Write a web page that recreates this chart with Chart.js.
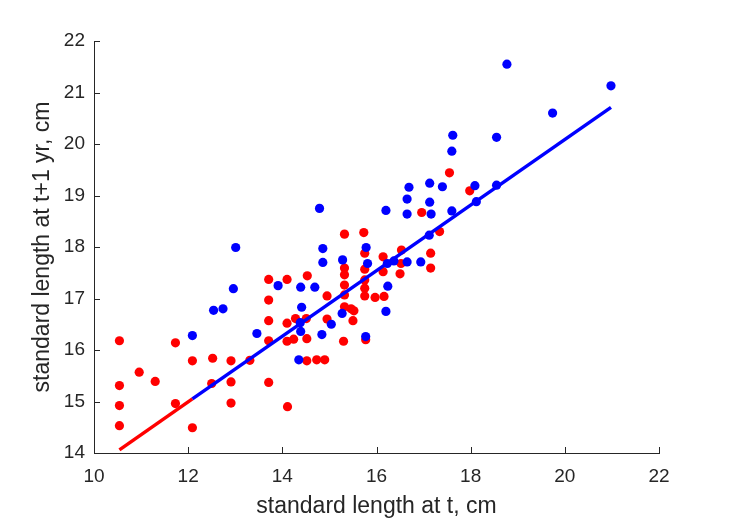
<!DOCTYPE html>
<html>
<head>
<meta charset="utf-8">
<script src="https://cdn.jsdelivr.net/npm/chart.js@4/dist/chart.umd.min.js"></script>
<style>
  body { margin: 0; background: #ffffff; }
  #wrap { width: 729px; height: 521px; }
</style>
</head>
<body>
<div id="wrap"><canvas id="myChart" width="729" height="521"></canvas></div>
<script>
// DONNEES : LONGUEUR A t (x) ET A t+1 AN (y)

var redX = [10.54, 10.54, 10.54, 10.54, 10.96, 11.30, 11.73, 11.73, 12.09, 12.09,
            12.52, 12.50, 12.91, 12.91, 12.91, 13.31, 13.71, 13.71, 13.71, 13.71,
            13.71, 14.10, 14.10, 14.10, 14.24, 14.11, 14.28, 14.51, 14.52, 14.53,
            14.52, 14.73, 14.90, 14.95, 14.95, 15.32, 15.32, 15.32, 15.32, 15.32,
            15.32, 15.30, 15.46, 15.52, 15.50, 15.73, 15.75, 15.75, 15.75, 15.75,
            15.75, 15.77, 15.97, 16.16, 16.14, 16.14, 16.52, 16.50, 16.53, 16.96,
            17.15, 17.15, 17.34, 17.55, 17.98];
var redY = [16.18, 15.31, 14.92, 14.53, 15.57, 15.39, 16.14, 14.96, 15.79, 14.49,
            15.84, 15.35, 15.79, 15.38, 14.97, 15.80, 17.37, 16.97, 16.57, 16.18,
            15.37, 17.37, 16.52, 16.17, 16.21, 14.90, 16.61, 16.61, 16.22, 17.44,
            15.79, 15.81, 15.81, 17.05, 16.60, 18.25, 17.59, 17.46, 17.26, 17.07,
            16.84, 16.17, 16.80, 16.76, 16.57, 18.28, 17.88, 17.57, 17.36, 17.20,
            17.05, 16.20, 17.02, 17.04, 17.81, 17.52, 17.68, 17.48, 17.94, 18.67,
            17.88, 17.59, 18.30, 19.44, 19.09];

var blueX = [12.09, 12.54, 12.74, 13.01, 12.96, 13.46, 13.91, 14.39, 14.69, 14.41,
             14.38, 14.39, 14.35, 14.79, 14.86, 14.86, 14.84, 15.04, 15.28, 15.27,
             15.78, 15.81, 15.77, 16.20, 16.24, 16.20, 16.23, 16.37, 16.65, 16.94,
             16.65, 16.69, 16.65, 17.13, 17.13, 17.16, 17.12, 17.40, 17.60, 17.62,
             17.60, 18.09, 18.12, 18.55, 18.55, 18.77, 19.74, 20.98];
var blueY = [16.28, 16.77, 16.80, 17.99, 17.19, 16.32, 17.25, 17.22, 17.22, 16.83,
             16.53, 16.36, 15.81, 18.75, 17.97, 17.70, 16.30, 16.50, 17.75, 16.71,
             17.99, 17.68, 16.26, 18.71, 17.24, 16.75, 17.68, 17.73, 17.71, 17.71,
             18.93, 19.16, 18.64, 19.24, 18.87, 18.64, 18.23, 19.17, 18.70, 20.17,
             19.86, 19.19, 18.88, 19.20, 20.13, 21.55, 20.60, 21.13];

// DROITE DE REGRESSION (EXTREMITES)
var redLineX = [10.54, 12.09];
var redLineY = [14.06, 15.05];
var blueLineX = [12.09, 20.98];
var blueLineY = [15.05, 20.71];

var xTicks = [10, 12, 14, 16, 18, 20, 22];
var yTicks = [14, 15, 16, 17, 18, 19, 20, 21, 22];

function toPoints(xs, ys) {
    var pts = [];
    for (var i = 0; i < xs.length; i++) {
        pts.push({ x: xs[i], y: ys[i] });
    }
    return pts;
}

var axisColor = "#262626";
var fontFam = "'Liberation Sans', Arial, Helvetica, sans-serif";

// PETITS TRAITS DE GRADUATION VERS L'INTERIEUR (COMME MATLAB)
var innerTicks = {
    id: "innerTicks",
    afterDraw: function(chart) {
        var ctx = chart.ctx;
        var a = chart.chartArea;
        var sx = chart.scales.x;
        var sy = chart.scales.y;
        ctx.save();
        ctx.strokeStyle = axisColor;
        ctx.lineWidth = 1;
        ctx.beginPath();
        for (var i = 0; i < xTicks.length; i++) {
            var px = Math.round(sx.getPixelForValue(xTicks[i])) + 0.5;
            ctx.moveTo(px, a.bottom);
            ctx.lineTo(px, a.bottom - 6);
        }
        for (var j = 0; j < yTicks.length; j++) {
            var py = Math.round(sy.getPixelForValue(yTicks[j])) + 0.5;
            ctx.moveTo(a.left, py);
            ctx.lineTo(a.left + 6, py);
        }
        ctx.stroke();
        ctx.restore();
    }
};

new Chart(document.getElementById("myChart"), {
    type: "scatter",
    data: {
        datasets: [{
            label: "ligne bleue",
            type: "line",
            data: toPoints(blueLineX, blueLineY),
            borderColor: "#0000ff",
            borderWidth: 3.5,
            pointRadius: 0,
            showLine: true,
            fill: false,
            order: 0
        }, {
            label: "ligne rouge",
            type: "line",
            data: toPoints(redLineX, redLineY),
            borderColor: "#ff0000",
            borderWidth: 3.5,
            pointRadius: 0,
            showLine: true,
            fill: false,
            order: 0
        }, {
            label: "bleu",
            data: toPoints(blueX, blueY),
            backgroundColor: "#0000ff",
            borderWidth: 0,
            pointRadius: 4.6,
            order: 1
        }, {
            label: "rouge",
            data: toPoints(redX, redY),
            backgroundColor: "#ff0000",
            borderWidth: 0,
            pointRadius: 4.6,
            order: 2
        }]
    },
    options: {
        responsive: false,
        animation: false,
        layout: { padding: { top: 41, right: 70, left: 0, bottom: 0 } },
        plugins: {
            legend: { display: false },
            tooltip: { enabled: false }
        },
        scales: {
            x: {
                type: "linear",
                min: 10,
                max: 22,
                afterBuildTicks: function(scale) {
                    scale.ticks = xTicks.map(function(v) { return { value: v }; });
                },
                afterFit: function(scale) { scale.height = 68; },
                grid: { display: true, drawOnChartArea: false, drawTicks: false },
                border: { display: true, color: axisColor, width: 1 },
                ticks: {
                    color: axisColor,
                    padding: 12,
                    maxRotation: 0,
                    font: { family: fontFam, size: 19 }
                },
                title: {
                    display: true,
                    text: "standard length at t, cm",
                    color: axisColor,
                    font: { family: fontFam, size: 23 },
                    padding: { top: 0, bottom: 1 }
                }
            },
            y: {
                type: "linear",
                min: 14,
                max: 22,
                afterBuildTicks: function(scale) {
                    scale.ticks = yTicks.map(function(v) { return { value: v }; });
                },
                afterFit: function(scale) { scale.width = 94; },
                grid: { display: true, drawOnChartArea: false, drawTicks: false },
                border: { display: true, color: axisColor, width: 1 },
                ticks: {
                    color: axisColor,
                    padding: 9,
                    font: { family: fontFam, size: 19 }
                },
                title: {
                    display: true,
                    text: "standard length at t+1 yr, cm",
                    color: axisColor,
                    font: { family: fontFam, size: 23 },
                    padding: { top: 29, bottom: 0 }
                }
            }
        }
    },
    plugins: [innerTicks]
});
</script>
</body>
</html>
